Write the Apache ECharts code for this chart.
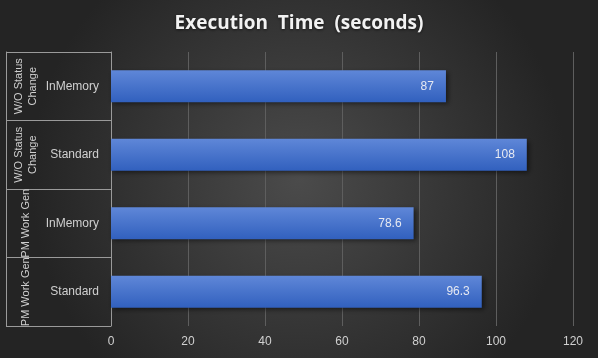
<!DOCTYPE html>
<html><head><meta charset="utf-8">
<script src="https://cdn.jsdelivr.net/npm/echarts@6/dist/echarts.min.js"></script>
<style>html,body{margin:0;padding:0;background:#333}#c{width:598px;height:358px}</style>
</head><body><div id="c"></div>
<script>
const innerLabels = ['InMemory', 'Standard', 'InMemory', 'Standard'];
const outerLabels = ['W/O Status\nChange', 'W/O Status\nChange', 'PM Work Gen', 'PM Work Gen'];
const values = [87, 108, 78.6, 96.3];
const xTicks = { min: 0, max: 120, interval: 20 };
const titleText = 'Execution  Time  (seconds)';

const gridColor = '#5e5e5e';
const lineColor = '#9a9a9a';
const chart = echarts.init(document.getElementById('c'));
chart.setOption({
  backgroundColor: {
    type: 'radial', x: 0.5, y: 0.5, r: 0.75,
    colorStops: [{offset: 0, color: '#4b4b4b'}, {offset: 1, color: '#242424'}]
  },
  animation: false,
  title: {
    text: titleText, left: 'center', top: 9,
    textStyle: {color: '#f2f2f2', fontSize: 19, fontWeight: 'bold', fontFamily: 'Open Sans',
      textShadowColor: 'rgba(0,0,0,0.6)', textShadowBlur: 3, textShadowOffsetY: 1}
  },
  grid: {left: 111, right: 25, top: 52, bottom: 32},
  xAxis: {
    type: 'value', min: xTicks.min, max: xTicks.max, interval: xTicks.interval,
    axisLine: {show: false}, axisTick: {show: false},
    splitLine: {lineStyle: {color: gridColor, width: 1}},
    axisLabel: {color: '#d0d0d0', fontSize: 12, fontFamily: 'Liberation Sans', margin: 10}
  },
  yAxis: [{
    type: 'category', data: innerLabels, inverse: true,
    axisLine: {show: true, lineStyle: {color: lineColor}},
    axisTick: {show: true, length: 105, lineStyle: {color: lineColor}},
    axisLabel: {color: '#d0d0d0', fontSize: 12, fontFamily: 'Liberation Sans', margin: 12}
  }, {
    type: 'category', data: outerLabels, inverse: true, position: 'left', offset: 85,
    axisLine: {show: false}, axisTick: {show: false},
    axisLabel: {color: '#d0d0d0', fontSize: 11, fontFamily: 'Liberation Sans', rotate: 90, margin: 0,
      lineHeight: 14, interval: 0, align: 'center', verticalAlign: 'middle'}
  }, {
    type: 'category', data: innerLabels, inverse: true, position: 'left', offset: 105,
    axisLine: {show: true, lineStyle: {color: lineColor}}, axisTick: {show: false},
    axisLabel: {show: false}
  }],
  series: [{
    type: 'bar', data: values, barWidth: '47%', yAxisIndex: 0,
    itemStyle: {
      color: {type: 'linear', x: 0, y: 0, x2: 0, y2: 1,
        colorStops: [{offset: 0, color: '#5f87d8'}, {offset: 1, color: '#3160be'}]},
      shadowColor: 'rgba(0,0,0,0.55)', shadowBlur: 5, shadowOffsetX: 2, shadowOffsetY: 2
    },
    label: {show: true, position: 'insideRight', color: '#e6e9f2', fontSize: 12,
      fontFamily: 'Liberation Sans', distance: 12}
  }]
});
</script></body></html>
